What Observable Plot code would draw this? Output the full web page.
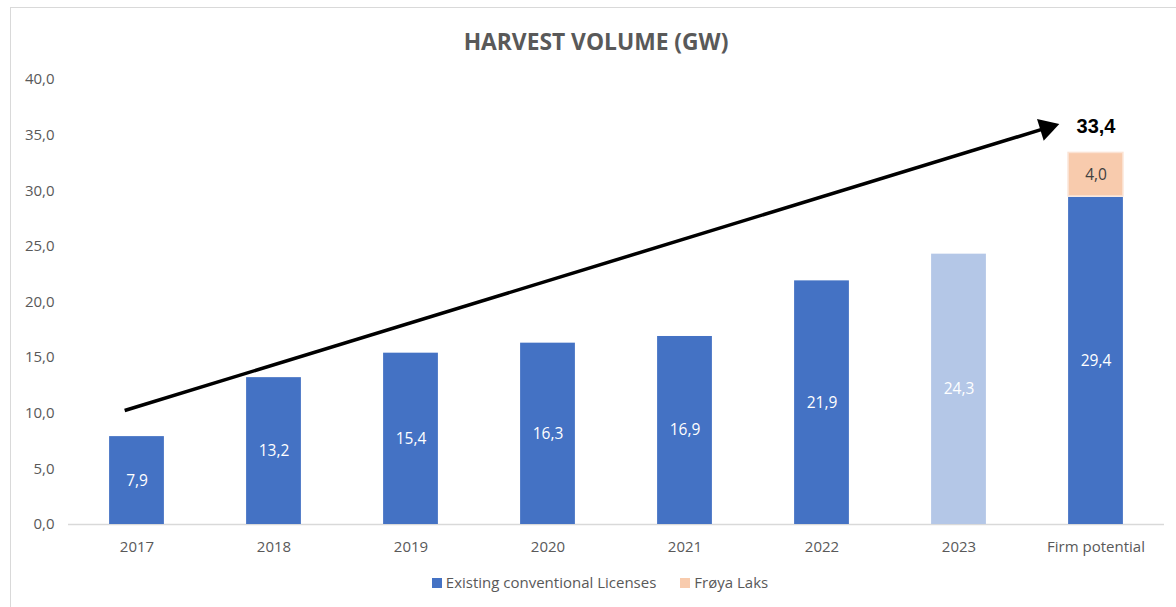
<!DOCTYPE html>
<html>
<head>
<meta charset="utf-8">
<script src="https://cdn.jsdelivr.net/npm/d3@7"></script>
<script src="https://cdn.jsdelivr.net/npm/@observablehq/plot@0.6"></script>
<style>
  html, body { margin: 0; padding: 0; background: #fff; }
  body { width: 1176px; height: 607px; position: relative; overflow: hidden; font-family: "Open Sans", sans-serif; }
  #frame { position: absolute; left: 10px; top: 7px; width: 1170px; height: 610px; border-left: 1px solid #d9d9d9; border-top: 1px solid #d9d9d9; }
  #title { position: absolute; left: 8px; top: 26px; width: 1176px; text-align: center; font-size: 22.8px; font-weight: 700; color: #595959; }
  #chart { position: absolute; left: 0; top: 60px; }
  #legend { position: absolute; left: 12px; top: 572px; width: 1176px; text-align: center; font-size: 15px; color: #595959; }
  #legend span.item { display: inline-block; margin: 0 12px; }
  #legend span.sw { display: inline-block; width: 10px; height: 10px; margin-right: 4px; vertical-align: 0px; }
</style>
</head>
<body>
<div id="frame"></div>
<div id="title">HARVEST VOLUME (GW)</div>
<div id="chart"></div>
<div id="legend"></div>
<script>
// ---- data ----
const categories = ["2017", "2018", "2019", "2020", "2021", "2022", "2023", "Firm potential"];
const existingLicenses = [7.9, 13.2, 15.4, 16.3, 16.9, 21.9, 24.3, 29.4];
const froyaLaks = [0, 0, 0, 0, 0, 0, 0, 4.0];
const isEstimate = [false, false, false, false, false, false, true, false];
const totalLabel = 33.4;
const yTicks = [0, 5, 10, 15, 20, 25, 30, 35, 40];
const seriesNames = ["Existing conventional Licenses", "Frøya Laks"];
// trend arrow: start near 2017, end just before "Firm potential"
const arrowStart = {x: -0.09, y: 10.25};
const arrowEnd = {x: 6.64, y: 35.65};

const colors = {existing: "#4472C4", estimate: "#B4C7E7", froya: "#F8CBAD"};
const fmt = v => d3.format(".1f")(v).replace(".", ",");

const rows = categories.map((c, i) => ({
  i, cat: c, base: existingLicenses[i], froya: froyaLaks[i], est: isEstimate[i]
}));
const half = 0.2;

const plot = Plot.plot({
  width: 1176,
  height: 505,
  marginLeft: 68,
  marginRight: 12,
  marginTop: 19,
  marginBottom: 41,
  style: {fontFamily: "Open Sans, sans-serif", fontSize: "15px", color: "#595959", background: "transparent"},
  x: {type: "linear", domain: [-0.5, categories.length - 0.5], axis: null},
  y: {domain: [0, 40], axis: null},
  marks: [
    Plot.axisY({ticks: yTicks, tickFormat: fmt, tickSize: 0, tickPadding: 14, fontSize: 15, fill: "#595959", label: null}),
    Plot.axisX({ticks: d3.range(categories.length), tickFormat: i => categories[i], tickSize: 0, tickPadding: 17, fontSize: 15, fill: "#595959", label: null}),
    Plot.ruleY([0], {stroke: "#d9d9d9", strokeWidth: 1.5}),
    Plot.rectY(rows, {x1: d => d.i - half, x2: d => d.i + half, y1: 0, y2: "base",
      fill: d => d.est ? colors.estimate : colors.existing}),
    Plot.rectY(rows.filter(d => d.froya > 0), {x1: d => d.i - half, x2: d => d.i + half,
      y1: "base", y2: d => d.base + d.froya, fill: colors.froya, stroke: "#fbe3d4", strokeWidth: 1.5, insetBottom: 1}),
    Plot.text(rows, {x: "i", y: d => d.base / 2, text: d => fmt(d.base), fill: "white", fontSize: 15.5}),
    Plot.text(rows.filter(d => d.froya > 0), {x: "i", y: d => d.base + d.froya / 2, text: d => fmt(d.froya), fill: "#404040", fontSize: 15.5}),
    Plot.text([totalLabel], {x: categories.length - 1, y: d => d, dy: -26, text: d => fmt(d), fill: "#000", fontSize: 20, fontWeight: "bold", fontFamily: "Liberation Sans, Arial, sans-serif"}),
    Plot.link([0], {x1: () => arrowStart.x, y1: () => arrowStart.y, x2: () => arrowEnd.x, y2: () => arrowEnd.y, stroke: "#000", strokeWidth: 3.5}),
    Plot.dot([0], {x: () => arrowEnd.x, y: () => arrowEnd.y, symbol: "triangle", r: 8.5, fill: "#000", stroke: "none", rotate: 73})
  ]
});
document.getElementById("chart").appendChild(plot);

const legendColors = [colors.existing, colors.froya];
const legend = document.getElementById("legend");
seriesNames.forEach((name, k) => {
  const item = document.createElement("span");
  item.className = "item";
  const sw = document.createElement("span");
  sw.className = "sw";
  sw.style.background = legendColors[k];
  item.appendChild(sw);
  item.appendChild(document.createTextNode(name));
  legend.appendChild(item);
});
</script>
</body>
</html>
